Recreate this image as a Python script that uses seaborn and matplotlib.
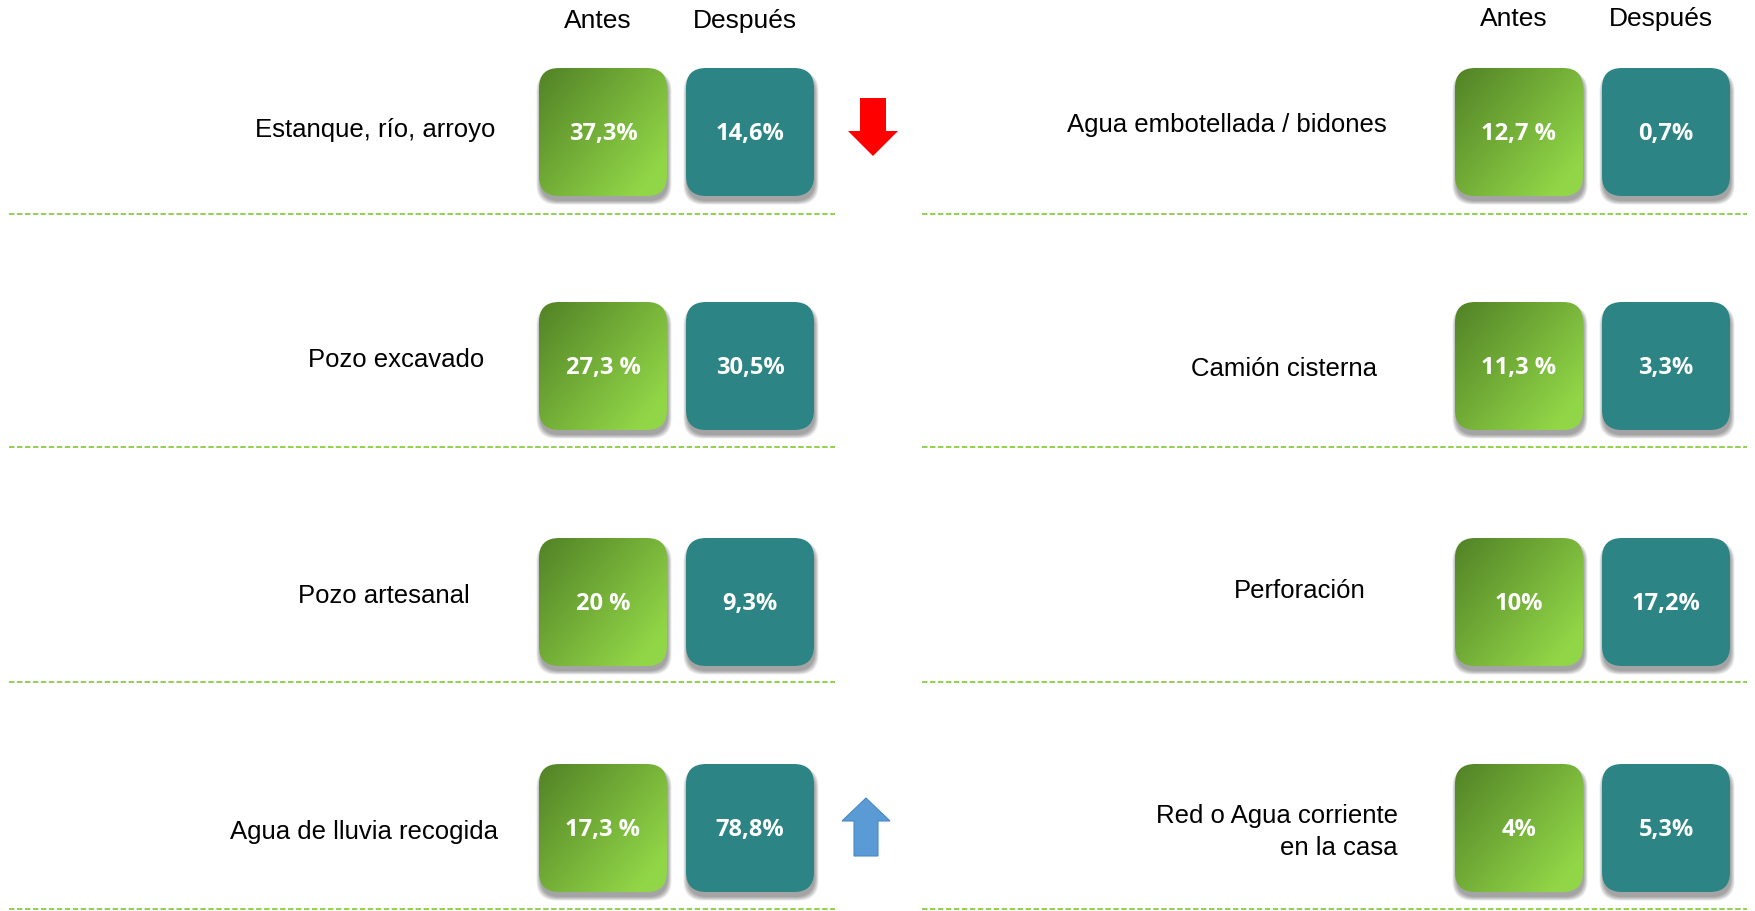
import numpy as np
import matplotlib
matplotlib.use("Agg")
import matplotlib.pyplot as plt
from matplotlib.patches import FancyBboxPatch, FancyArrow
import seaborn as sns

sns.set_theme(style="white")
plt.rcParams['font.family'] = ['Liberation Sans', 'DejaVu Sans']

# data
headers = ["Antes", "Después"]
left_sources = ["Estanque, río, arroyo", "Pozo excavado", "Pozo artesanal",
                "Agua de lluvia recogida"]
left_antes = ["37,3%", "27,3 %", "20 %", "17,3 %"]
left_despues = ["14,6%", "30,5%", "9,3%", "78,8%"]
right_sources = ["Agua embotellada / bidones", "Camión cisterna", "Perforación",
                 "Red o Agua corriente\nen la casa"]
right_antes = ["12,7 %", "11,3 %", "10%", "4%"]
right_despues = ["0,7%", "3,3%", "17,2%", "5,3%"]
left_trend = ["down", None, None, "up"]

# layout (pixel units, y down)
W, H = 1756, 912
box = 128
row_top = [69, 303, 539, 765]
line_y = [215, 448, 683, 910]
panels = [
    dict(x0=9, x1=835, box_x=[539, 686], head_y=21,
         label_x=[375, 396, 384, 364], label_y=[130, 360, 596, 832],
         sources=left_sources, antes=left_antes, despues=left_despues),
    dict(x0=922, x1=1747, box_x=[1455, 1602], head_y=19,
         label_x=[1227, 1284, 1300, 1398], label_y=[125, 369, 591, 832],
         sources=right_sources, antes=right_antes, despues=right_despues),
]

green_dark = np.array([0.32, 0.51, 0.15])
green_light = np.array([0.57, 0.84, 0.28])
teal = "#2d8484"

fig = plt.figure(figsize=(W / 100, H / 100), dpi=100)
ax = fig.add_axes([0, 0, 1, 1])
ax.set_xlim(0, W)
ax.set_ylim(H, 0)
ax.axis("off")

# gradient image for the "Antes" boxes
n = 100
u, v = np.meshgrid(np.linspace(0, 1, n), np.linspace(0, 1, n))
t = np.clip((u * 0.55 + v * 0.45) * 1.15, 0, 1)[..., None]
grad = green_dark * (1 - t) + green_light * t


def draw_box(x, y, text, gradient):
    # soft shadow
    for k in range(7):
        sh = FancyBboxPatch((x + 1 - k * 0.6, y + 5 - k * 0.3), box + k * 1.2, box + k * 0.9,
                            boxstyle="round,pad=0,rounding_size=20",
                            fc="black", ec="none", alpha=0.06, zorder=1)
        ax.add_patch(sh)
    patch = FancyBboxPatch((x, y), box, box, boxstyle="round,pad=0,rounding_size=20",
                           fc=teal if not gradient else "none", ec="none", zorder=2)
    ax.add_patch(patch)
    if gradient:
        im = ax.imshow(grad, extent=(x, x + box, y + box, y), origin="upper",
                       zorder=2, interpolation="bilinear")
        im.set_clip_path(patch)
    ax.text(x + box / 2, y + box / 2 + 1, text, ha="center", va="center", color="white",
            fontsize=17, fontweight="bold", family=["Open Sans", "DejaVu Sans"], zorder=3)


for p in panels:
    for j, h in enumerate(headers):
        ax.text(p["box_x"][j] + box / 2 - 5, p["head_y"], h, ha="center", va="center",
                fontsize=19, color="black")
    for i in range(len(p["sources"])):
        draw_box(p["box_x"][0], row_top[i], p["antes"][i], True)
        draw_box(p["box_x"][1], row_top[i], p["despues"][i], False)
        multi = "\n" in p["sources"][i]
        ax.text(p["label_x"][i], p["label_y"][i], p["sources"][i],
                ha="right" if multi else "center", va="center", multialignment="right",
                fontsize=18.5, color="black", linespacing=1.45)
        ax.plot([p["x0"], p["x1"]], [line_y[i], line_y[i]], color="#92d050", lw=1.4,
                dashes=(2.8, 1.3), zorder=1)

# trend arrows next to the left panel
arrow_x = 870
for i, tr in enumerate(left_trend):
    if tr == "down":
        ax.add_patch(FancyArrow(arrow_x + 3, row_top[i] + 30, 0, 58, width=26,
                                head_width=50, head_length=25, length_includes_head=True,
                                fc="#ff0000", ec="none", zorder=3))
    elif tr == "up":
        ax.add_patch(FancyArrow(arrow_x - 4, row_top[i] + 92, 0, -58, width=24,
                                head_width=48, head_length=23, length_includes_head=True,
                                fc="#5b9bd5", ec="#4a89c8", lw=0.8, zorder=3))

fig.savefig("out.png", dpi=100)
